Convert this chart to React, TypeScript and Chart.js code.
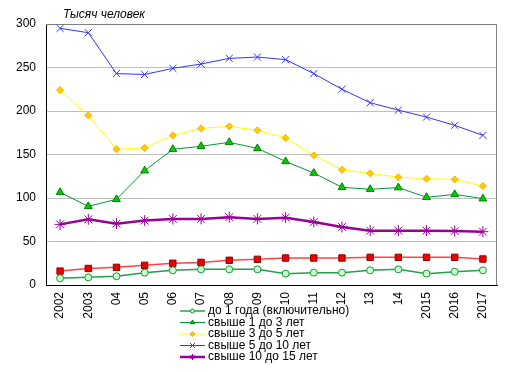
import React, { useEffect, useRef } from "react";
import { Chart, registerables } from "chart.js";
import { drawPoint } from "chart.js/helpers";

Chart.register(...registerables);

const categories = ["2002", "2003", "04", "05", "06", "07", "08", "09", "10", "11", "12", "13", "14", "2015", "2016", "2017"];

const upTo1 = [7.7, 8.8, 10, 14.2, 16.9, 18, 18, 18, 13, 14.2, 14.2, 16.9, 18, 13, 15.3, 16.9];
const from1to3 = [106.5, 90.4, 98.5, 131.4, 156, 159.4, 164, 157, 142, 128.7, 112.3, 110, 112, 100.8, 104.2, 99.2];
const from3to5 = [224, 195, 156, 157.5, 172, 180, 182.4, 177.8, 169, 149, 132.5, 128.4, 123.8, 122.2, 121.4, 113.8];
const from5to10 = [295, 290, 243, 242, 249, 254, 260.5, 262, 259, 243, 225, 209.5, 201, 193, 183.5, 172];
const from10to15 = [69.7, 75.5, 70.5, 74, 75.9, 76, 78, 76, 77.4, 72.4, 66.7, 62.5, 62.5, 62.5, 62, 61.3];
const redSeries = [16, 19, 20.3, 22.6, 25, 26, 28.4, 29.5, 31, 31, 31, 31.8, 31.8, 31.8, 31.8, 29.9];

const yTicks = [0, 50, 100, 150, 200, 250, 300];
const yTitle = "Тысяч человек";

const FONT = "Arial, 'Liberation Sans', sans-serif";

const legendPlugin = {
  id: "customLegend",
  afterDraw(chart: any) {
    const ctx = chart.ctx;
    ctx.save();
    ctx.font = `italic 12px ${FONT}`;
    ctx.fillStyle = "#000";
    ctx.textBaseline = "alphabetic";
    ctx.textAlign = "left";
    ctx.fillText(yTitle, 63, 18);
    let y = 311;
    chart.data.datasets.forEach((ds: any) => {
      if (ds.noLegend) return;
      ctx.save();
      ctx.strokeStyle = ds.borderColor;
      ctx.lineWidth = ds.borderWidth;
      ctx.beginPath();
      ctx.moveTo(180, y);
      ctx.lineTo(205, y);
      ctx.stroke();
      ctx.fillStyle = ds.pointBackgroundColor;
      ctx.strokeStyle = ds.pointBorderColor;
      ctx.lineWidth = 1;
      drawPoint(ctx, { pointStyle: ds.pointStyle, radius: ds.legendRadius, rotation: 0, borderWidth: 1 } as any, 192.5, y);
      ctx.restore();
      ctx.font = `12px ${FONT}`;
      ctx.fillStyle = "#000";
      ctx.textBaseline = "middle";
      ctx.fillText(ds.label, 208, y);
      y += 11.5;
    });
    ctx.restore();
  },
  beforeDatasetsDraw(chart: any) {
    const { ctx, chartArea } = chart;
    ctx.save();
    ctx.strokeStyle = "#808080";
    ctx.lineWidth = 1;
    ctx.beginPath();
    ctx.moveTo(chartArea.left, chartArea.top + 0.5);
    ctx.lineTo(chartArea.right - 0.5, chartArea.top + 0.5);
    ctx.lineTo(chartArea.right - 0.5, chartArea.bottom);
    ctx.stroke();
    ctx.restore();
  },
};

export default function App() {
  const ref = useRef<HTMLCanvasElement>(null);
  useEffect(() => {
    if (!ref.current) return;
    const chart = new Chart(ref.current, {
      type: "line",
      data: {
        labels: categories,
        datasets: [
          {
            label: "до 1 года (включительно)",
            data: upTo1,
            borderColor: "#22a04a",
            borderWidth: 1.5,
            pointStyle: "circle",
            pointRadius: 3.5,
            pointBackgroundColor: "#ccffcc",
            pointBorderColor: "#119933",
            pointBorderWidth: 1,
            legendRadius: 2,
          } as any,
          {
            label: "свыше 1 до 3 лет",
            data: from1to3,
            borderColor: "#009933",
            borderWidth: 1,
            pointStyle: "triangle",
            pointRadius: 4.5,
            pointBackgroundColor: "#00cc00",
            pointBorderColor: "#008000",
            pointBorderWidth: 1,
            legendRadius: 2.5,
          },
          {
            label: "свыше 3 до 5 лет",
            data: from3to5,
            borderColor: "#ffff00",
            borderWidth: 1,
            pointStyle: "rectRot",
            pointRadius: 3.5,
            pointBackgroundColor: "#ffcc00",
            pointBorderColor: "#ffaa00",
            pointBorderWidth: 1,
            legendRadius: 2.5,
          },
          {
            label: "свыше 5 до 10 лет",
            data: from5to10,
            borderColor: "#3333ff",
            borderWidth: 1,
            pointStyle: "crossRot",
            pointRadius: 5,
            pointBackgroundColor: "#3333ff",
            pointBorderColor: "#3333ff",
            pointBorderWidth: 1,
            legendRadius: 3.5,
          },
          {
            label: "свыше 10 до 15 лет",
            data: from10to15,
            borderColor: "#990099",
            borderWidth: 2.5,
            pointStyle: "star",
            pointRadius: 5.5,
            pointBackgroundColor: "#990099",
            pointBorderColor: "#990099",
            pointBorderWidth: 1,
            legendRadius: 3,
          },
          {
            label: "свыше 15 лет",
            data: redSeries,
            noLegend: true,
            borderColor: "#ff4444",
            borderWidth: 1.5,
            pointStyle: "rect",
            pointRadius: 4.5,
            pointBackgroundColor: "#ee0000",
            pointBorderColor: "#880000",
            pointBorderWidth: 1,
          },
        ] as any,
      },
      options: {
        animation: false,
        responsive: false,
        layout: { padding: { top: 24, right: 15, left: 0, bottom: 0 } },
        plugins: {
          legend: { display: false },
          tooltip: { enabled: false },
        },
        elements: { line: { tension: 0 } },
        scales: {
          x: {
            offset: true,
            grid: { display: false, drawTicks: false },
            border: { display: true, color: "#000", width: 1 },
            ticks: {
              autoSkip: false,
              maxRotation: 90,
              minRotation: 90,
              padding: 7,
              color: "#000",
              font: { family: FONT, size: 12 },
            },
            afterFit: (s: any) => {
              s.height = 87;
            },
          },
          y: {
            min: 0,
            max: 300,
            afterBuildTicks: (s: any) => {
              s.ticks = yTicks.map((v) => ({ value: v }));
            },
            grid: { color: "#c0c0c0", drawTicks: false },
            border: { display: true, color: "#000", width: 1 },
            ticks: {
              padding: 10,
              color: "#000",
              font: { family: FONT, size: 12 },
            },
            afterFit: (s: any) => {
              s.width = 46;
            },
          },
        },
      },
      plugins: [legendPlugin],
    });
    return () => chart.destroy();
  }, []);
  return (
    <div style={{ position: "absolute", left: 0, top: 0, width: 512, height: 372, background: "#fff" }}>
      <canvas ref={ref} width={512} height={372} style={{ display: "block" }} />
    </div>
  );
}
